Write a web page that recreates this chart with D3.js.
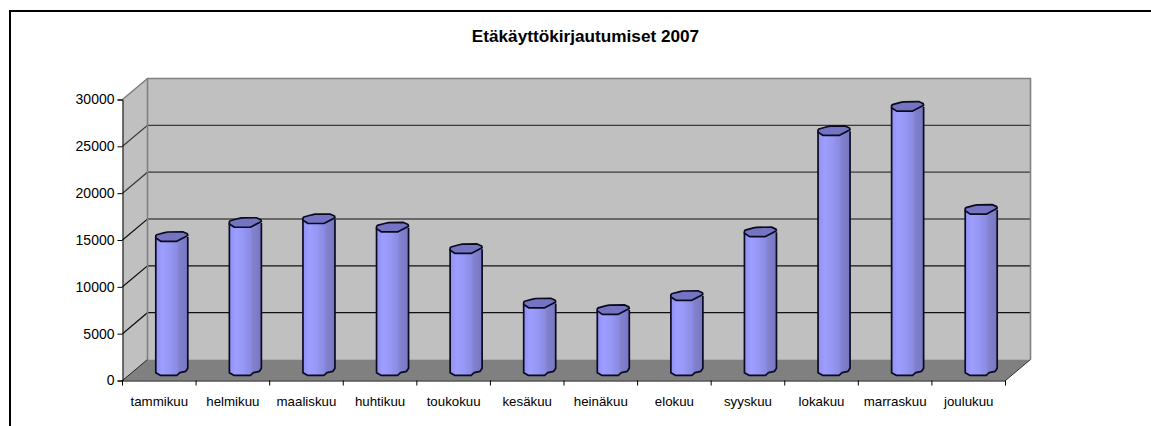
<!DOCTYPE html>
<html>
<head>
<meta charset="utf-8">
<script src="https://d3js.org/d3.v7.min.js"></script>
<style>
  html, body { margin: 0; padding: 0; background: #fff; overflow: hidden; }
  text { font-family: "Liberation Sans", Arial, sans-serif; fill: #000; }
</style>
</head>
<body>
<div id="chart"></div>
<script>
var months = ["tammikuu", "helmikuu", "maaliskuu", "huhtikuu", "toukokuu", "kesäkuu",
              "heinäkuu", "elokuu", "syyskuu", "lokakuu", "marraskuu", "joulukuu"];
var logins = [14200, 15700, 16100, 15200, 12900, 7100, 6400, 7900, 14700, 25500, 28100, 17100];
var yTicks = [0, 5000, 10000, 15000, 20000, 25000, 30000];
var chartTitle = "Etäkäyttökirjautumiset 2007";

var width = 1151,
    height = 426;

// front plane of the 3d box, the walls are shifted back by depthX/depthY
var plotLeft = 122.5, plotRight = 1005.5, plotBottom = 380.5, plotTop = 99.5;
var depthX = 25, depthY = 21;
var barWidth = 32;

var x = d3.scaleBand().domain(months).range([plotLeft, plotRight]);
var y = d3.scaleLinear().domain([0, 30000]).range([plotBottom, plotTop]);

var svg = d3.select("#chart").append("svg")
    .attr("width", width)
    .attr("height", height)
    .style("display", "block");

// stripes of the cylinder
var grad = svg.append("defs").append("linearGradient")
    .attr("id", "cyl")
    .attr("x1", "0").attr("x2", "1").attr("y1", "0").attr("y2", "0");
[[0, "#9090f4"], [0.2, "#9e9eff"], [0.45, "#9696f4"], [0.68, "#8a8ae0"], [0.72, "#8282d0"], [1, "#7676c0"]]
  .forEach(function(s) {
    grad.append("stop").attr("offset", s[0]).attr("stop-color", s[1]);
  });

// page frame: only top and left show in the crop
svg.append("path")
    .attr("d", "M1151,11H10V426")
    .attr("fill", "none")
    .attr("stroke", "#000")
    .attr("stroke-width", 2);

svg.append("text")
    .attr("x", 585.5)
    .attr("y", 42)
    .attr("text-anchor", "middle")
    .attr("font-weight", "bold")
    .attr("font-size", 17.2)
    .text(chartTitle);

// side wall, back wall, floor
svg.append("path")
    .attr("d", d3.line()([[plotLeft, y(0)], [plotLeft + depthX, y(0) - depthY], [plotLeft + depthX, y(30000) - depthY], [plotLeft, y(30000)]]))
    .attr("fill", "#c0c0c0");
svg.append("rect")
    .attr("x", plotLeft + depthX)
    .attr("y", y(30000) - depthY)
    .attr("width", plotRight - plotLeft)
    .attr("height", y(0) - y(30000))
    .attr("fill", "#c0c0c0");
svg.append("path")
    .attr("d", d3.line()([[plotLeft, y(0)], [plotLeft + depthX, y(0) - depthY], [plotRight + depthX, y(0) - depthY], [plotRight, y(0)]]))
    .attr("fill", "#808080");

// gridlines on the walls
yTicks.slice(1, -1).forEach(function(t) {
  svg.append("path")
      .attr("d", d3.line()([[plotLeft, y(t)], [plotLeft + depthX, y(t) - depthY], [plotRight + depthX, y(t) - depthY]]))
      .attr("fill", "none")
      .attr("stroke", t >= 20000 ? "#3a3a3a" : "#111")
      .attr("stroke-width", 1.2);
});

// wall borders
svg.append("path")
    .attr("d", d3.line()([[plotLeft, y(30000)], [plotLeft + depthX, y(30000) - depthY], [plotRight + depthX, y(30000) - depthY], [plotRight + depthX, y(0) - depthY]]))
    .attr("fill", "none")
    .attr("stroke", "#808080")
    .attr("stroke-width", 1.6);
svg.append("path")
    .attr("d", d3.line()([[plotLeft + depthX, y(30000) - depthY], [plotLeft + depthX, y(0) - depthY]]))
    .attr("stroke", "#808080")
    .attr("stroke-width", 1.6);
svg.append("path")
    .attr("d", d3.line()([[plotLeft, y(0)], [plotLeft + depthX, y(0) - depthY]]))
    .attr("stroke", "#222")
    .attr("stroke-width", 1);
svg.append("path")
    .attr("d", d3.line()([[plotRight, y(0)], [plotRight + depthX, y(0) - depthY]]))
    .attr("stroke", "#333")
    .attr("stroke-width", 1);

// outline of the lopsided cylinder, px from the bar's left edge and its cap/base centre
var capShape = [[0, -1.2], [0.8, -2.2], [9, -4.4], [12, -5], [27, -5.2], [31.5, -3.2], [32, -1.5], [21, 4.3], [5, 4.3], [0, 1]];
var baseShape = [[32, -1.7], [30, 1.3], [24, 2.7], [21, 5.3], [4.5, 5.3], [0, 2.7]];

var bars = svg.selectAll(".bar")
    .data(months.map(function(m, i) { return { month: m, value: logins[i] }; }))
    .enter().append("g")
    .attr("class", "bar");

function barLeft(d) { return x(d.month) + x.bandwidth() / 2 + depthX / 2 - barWidth / 2; }
function capY(d) { return y(d.value) - depthY / 2; }
var baseY = y(0) - depthY / 2;

bars.append("path")
    .attr("d", function(d) {
      var bx = barLeft(d), cy = capY(d);
      var pts = [[bx, cy], [bx + barWidth, cy]]
        .concat(baseShape.map(function(p) { return [bx + p[0], baseY + p[1]]; }));
      return d3.line()(pts) + "Z";
    })
    .attr("fill", "url(#cyl)")
    .attr("stroke", "none");

bars.append("path")
    .attr("d", function(d) {
      var bx = barLeft(d), cy = capY(d);
      var pts = [[bx + barWidth, cy]]
        .concat(baseShape.map(function(p) { return [bx + p[0], baseY + p[1]]; }))
        .concat([[bx, cy]]);
      return d3.line()(pts);
    })
    .attr("fill", "none")
    .attr("stroke", "#0a0a20")
    .attr("stroke-width", 1.7)
    .attr("stroke-linejoin", "round");

bars.append("path")
    .attr("d", function(d) {
      var bx = barLeft(d), cy = capY(d);
      return d3.line()(capShape.map(function(p) { return [bx + p[0], cy + p[1]]; })) + "Z";
    })
    .attr("fill", "#7474c2")
    .attr("stroke", "#0a0a20")
    .attr("stroke-width", 1.7)
    .attr("stroke-linejoin", "round");

// axes
var yAxis = d3.axisLeft(y).tickValues(yTicks).tickSize(5).tickPadding(3).tickFormat(d3.format("d"));
var gy = svg.append("g")
    .attr("transform", "translate(" + plotLeft + ",0)")
    .call(yAxis);
gy.selectAll("text").attr("font-size", 14);
gy.attr("font-family", null);

var xAxis = d3.axisBottom(x).tickSize(0).tickPadding(16);
var gx = svg.append("g")
    .attr("transform", "translate(0," + plotBottom + ")")
    .call(xAxis);
gx.selectAll("text").attr("font-size", 13.3);
gx.attr("font-family", null);

// x ticks sit on the category boundaries
months.concat(["end"]).forEach(function(m, i) {
  var tx = i < months.length ? x(m) : plotRight;
  svg.append("line")
      .attr("x1", tx).attr("x2", tx)
      .attr("y1", plotBottom).attr("y2", plotBottom + 5)
      .attr("stroke", "#000");
});
</script>
</body>
</html>
